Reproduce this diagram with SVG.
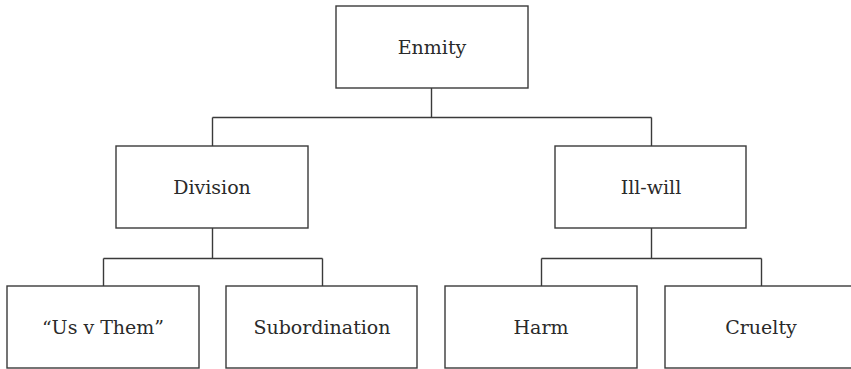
<svg xmlns="http://www.w3.org/2000/svg" width="851" height="369" viewBox="0 0 851 369">
<style>
.box{fill:#fff;stroke:#3a3a3a;stroke-width:1.4}
.lbl{font-family:'DejaVu Serif',serif;font-size:19px;fill:#2a2a2a;text-anchor:middle}
.con{fill:none;stroke:#3a3a3a;stroke-width:1.4}
</style>
<rect width="851" height="369" fill="#fff"/>
<g id="connectors" class="con">
<path d="M431.5 88V117.5M212.5 117.5H651.5M212.5 117.5V146M651.5 117.5V146"/>
<path d="M212.5 228V258.5M103.5 258.5H322.5M103.5 258.5V286M322.5 258.5V286"/>
<path d="M651.5 228V258.5M541.5 258.5H761.5M541.5 258.5V286M761.5 258.5V286"/>
</g>
<g id="enmity"><rect class="box" x="336" y="6" width="192" height="82"/><text class="lbl" x="432" y="54">Enmity</text></g>
<g id="division"><rect class="box" x="116" y="146" width="192" height="82"/><text class="lbl" x="212" y="194">Division</text></g>
<g id="illwill"><rect class="box" x="555" y="146" width="191" height="82"/><text class="lbl" x="651" y="194">Ill-will</text></g>
<g id="usvthem"><rect class="box" x="7" y="286" width="192" height="82"/><text class="lbl" x="103" y="334">“Us v Them”</text></g>
<g id="subordination"><rect class="box" x="226" y="286" width="191" height="82"/><text class="lbl" x="322" y="334">Subordination</text></g>
<g id="harm"><rect class="box" x="445" y="286" width="192" height="82"/><text class="lbl" x="541" y="334">Harm</text></g>
<g id="cruelty"><rect class="box" x="665" y="286" width="192" height="82"/><text class="lbl" x="761" y="334">Cruelty</text></g>
</svg>
